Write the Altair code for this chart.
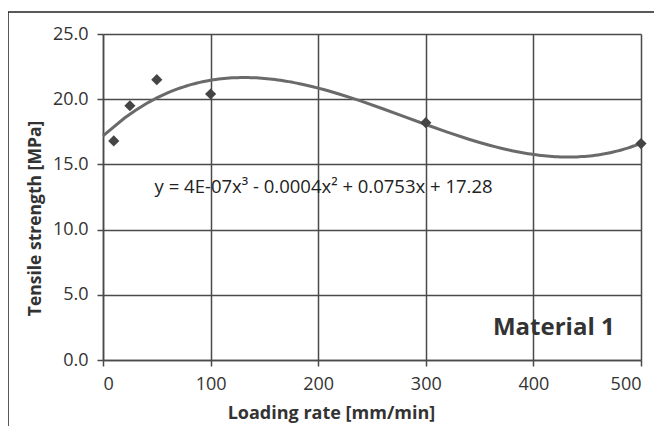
import altair as alt
import pandas as pd

rate = [10, 25, 50, 100, 300, 500]
strength = [16.8, 19.5, 21.5, 20.4, 18.2, 16.6]
x_ticks = [0, 100, 200, 300, 400, 500]
y_ticks = [0, 5, 10, 15, 20, 25]
equation = "y = 4E-07x³ - 0.0004x² + 0.0753x + 17.28"
label = "Material 1"

df = pd.DataFrame({"rate": rate, "strength": strength})

FONT = "Open Sans"

xs = alt.Scale(domain=[0, 500], nice=False)
ys = alt.Scale(domain=[0, 25], nice=False)

base = alt.Chart(df)

points = base.mark_point(shape="diamond", filled=True, size=125, color="#454545", opacity=1).encode(
    x=alt.X("rate:Q", scale=xs,
            axis=alt.Axis(values=x_ticks, title="Loading rate [mm/min]", titleX=228, titleY=53,
                          titleAnchor="start", titleAlign="center", titleBaseline="middle",
                          titleFontSize=18)),
    y=alt.Y("strength:Q", scale=ys,
            axis=alt.Axis(values=y_ticks, format=".1f", title="Tensile strength [MPa]",
                          titleY=184, titleAnchor="start", titleAlign="center")),
)

trend = base.transform_regression(
    "rate", "strength", method="poly", order=3, extent=[0, 500]
).mark_line(color="#6a6a6a", strokeWidth=3).encode(
    x=alt.X("rate:Q", scale=xs),
    y=alt.Y("strength:Q", scale=ys),
)

eq_df = pd.DataFrame({"x": [205], "y": [13.3], "t": [equation]})
eq = alt.Chart(eq_df).mark_text(font=FONT, fontSize=18.5, color="#222222", align="center", baseline="middle").encode(
    x=alt.X("x:Q", scale=xs), y=alt.Y("y:Q", scale=ys), text="t:N"
)

lab_df = pd.DataFrame({"x": [419], "y": [2.45], "t": [label]})
lab = alt.Chart(lab_df).mark_text(font=FONT, fontSize=24, fontWeight="bold", color="#333333",
                                  align="center", baseline="middle").encode(
    x=alt.X("x:Q", scale=xs), y=alt.Y("y:Q", scale=ys), text="t:N"
)

frame_top = alt.Chart(pd.DataFrame({"a": [0]})).mark_rule(color="#222222", strokeWidth=1.5, clip=False).encode(
    x=alt.value(-95), x2=alt.value(600), y=alt.value(-22)
)
frame_left = alt.Chart(pd.DataFrame({"a": [0]})).mark_rule(color="#222222", strokeWidth=1.5, clip=False).encode(
    x=alt.value(-95), y=alt.value(-22), y2=alt.value(420)
)

chart = alt.layer(frame_top, frame_left, trend, points, eq, lab).properties(
    width=538, height=326,
    autosize=alt.AutoSizeParams(type="none"),
    padding={"left": 95, "top": 26, "right": 13, "bottom": 66},
    background="white",
).configure_view(stroke=None).configure_axis(
    grid=True, gridColor="#4a4a4a", gridWidth=1.5,
    domainColor="#4a4a4a", domainWidth=1.5,
    tickColor="#4a4a4a", tickWidth=1.5, tickSize=6,
    labelFont=FONT, labelFontSize=18, labelColor="#333333",
    titleFont=FONT, titleFontSize=17.5, titleFontWeight="bold", titleColor="#333333",
).configure_axisY(labelPadding=9, titlePadding=8).configure_axisX(labelPadding=9)

chart.save("out.html", embed_options={"renderer": "svg", "actions": False})
